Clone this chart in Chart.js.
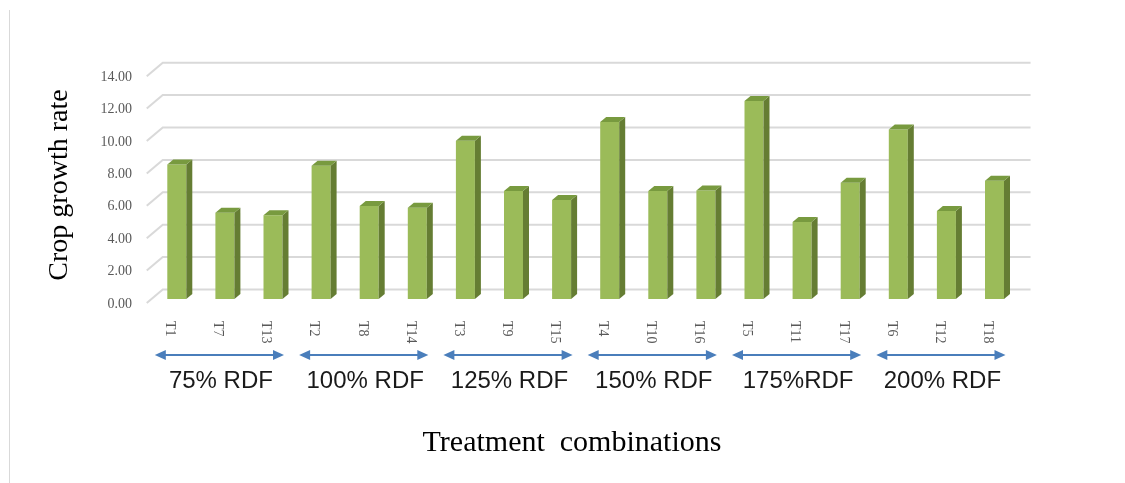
<!DOCTYPE html>
<html><head><meta charset="utf-8">
<script src="https://cdn.jsdelivr.net/npm/chart.js@4.4.1/dist/chart.umd.min.js"></script>
<style>html,body{margin:0;padding:0;background:#fff;} canvas{display:block;}</style>
</head><body>
<canvas id="c" width="1125" height="483"></canvas>
<script>
const categories = ['T1','T7','T13','T2','T8','T14','T3','T9','T15','T4','T10','T16','T5','T11','T17','T6','T12','T18'];
const cropGrowthRate = [8.31,5.33,5.17,8.23,5.74,5.64,9.77,6.67,6.11,10.93,6.67,6.69,12.22,4.75,7.18,10.47,5.43,7.30];
const groupLabels = ['75% RDF','100% RDF','125% RDF','150% RDF','175%RDF','200% RDF'];
const yTicks = [0,2,4,6,8,10,12,14];
const yTitle = 'Crop growth rate';
const xTitle = 'Treatment  combinations';

const DX = 6, DY = 5;
const decor = {
  id: 'decor',
  beforeDraw(chart) {
    const ctx = chart.ctx;
    ctx.save();
    ctx.fillStyle = '#fff';
    ctx.fillRect(0, 0, chart.width, chart.height);
    ctx.strokeStyle = '#d9d9d9';
    ctx.lineWidth = 1;
    ctx.beginPath(); ctx.moveTo(9.5, 10); ctx.lineTo(9.5, 483); ctx.stroke();
    ctx.restore();
  },
  beforeDatasetsDraw(chart) {
    const {ctx, chartArea: a, scales: {y}} = chart;
    ctx.save();
    ctx.strokeStyle = '#d9d9d9';
    ctx.lineWidth = 2;
    yTicks.forEach(v => {
      const py = y.getPixelForValue(v);
      ctx.beginPath();
      ctx.moveTo(a.left - 6, py + 4);
      ctx.lineTo(a.left + 10, py - 9.5);
      ctx.lineTo(a.right + 12, py - 9.5);
      ctx.stroke();
    });
    ctx.restore();
  },
  afterDatasetsDraw(chart) {
    const ctx = chart.ctx;
    const meta = chart.getDatasetMeta(0);
    ctx.save();
    meta.data.forEach(b => {
      const {x, y, base, width} = b.getProps(['x', 'y', 'base', 'width'], true);
      const l = x - width / 2, r = x + width / 2;
      ctx.fillStyle = '#657d33';
      ctx.beginPath();
      ctx.moveTo(r, y); ctx.lineTo(r + DX, y - DY); ctx.lineTo(r + DX, base - DY); ctx.lineTo(r, base);
      ctx.closePath(); ctx.fill();
      ctx.fillStyle = '#789a3f';
      ctx.beginPath();
      ctx.moveTo(l, y); ctx.lineTo(l + DX, y - DY); ctx.lineTo(r + DX, y - DY); ctx.lineTo(r, y);
      ctx.closePath(); ctx.fill();
    });
    ctx.restore();
  },
  afterDraw(chart) {
    const {ctx, scales: {x}} = chart;
    ctx.save();
    // category labels, rotated clockwise
    ctx.fillStyle = '#595959';
    ctx.font = '14px "Liberation Serif", serif';
    ctx.textAlign = 'left';
    ctx.textBaseline = 'middle';
    categories.forEach((c, i) => {
      const px = x.getPixelForValue(i);
      ctx.save();
      ctx.translate(px - 7, 321);
      ctx.rotate(Math.PI / 2);
      ctx.fillText(c, 0, 0);
      ctx.restore();
    });
    // group arrows and labels
    groupLabels.forEach((g, gi) => {
      const x0 = x.getPixelForValue(gi * 3) - 22;
      const x1 = x.getPixelForValue(gi * 3 + 2) + 11;
      const ay = 355;
      ctx.strokeStyle = '#4a7ebb';
      ctx.fillStyle = '#4a7ebb';
      ctx.lineWidth = 2;
      ctx.beginPath(); ctx.moveTo(x0 + 8, ay); ctx.lineTo(x1 - 8, ay); ctx.stroke();
      ctx.beginPath(); ctx.moveTo(x0, ay); ctx.lineTo(x0 + 11, ay - 5); ctx.lineTo(x0 + 11, ay + 5); ctx.closePath(); ctx.fill();
      ctx.beginPath(); ctx.moveTo(x1, ay); ctx.lineTo(x1 - 11, ay - 5); ctx.lineTo(x1 - 11, ay + 5); ctx.closePath(); ctx.fill();
      ctx.fillStyle = '#1a1a1a';
      ctx.font = '24px "Liberation Sans", sans-serif';
      ctx.textAlign = 'center';
      ctx.textBaseline = 'middle';
      ctx.fillText(g, x.getPixelForValue(gi * 3 + 1) - 4, 381);
    });
    // axis titles
    ctx.fillStyle = '#000';
    ctx.font = '28px "Liberation Serif", serif';
    ctx.textAlign = 'center';
    ctx.textBaseline = 'middle';
    ctx.save();
    ctx.translate(60, 185);
    ctx.rotate(-Math.PI / 2);
    ctx.fillText(yTitle, 0, 0);
    ctx.restore();
    ctx.font = '30px "Liberation Serif", serif';
    ctx.fillText(xTitle, 572, 443);
    ctx.restore();
  }
};

new Chart(document.getElementById('c'), {
  type: 'bar',
  data: {
    labels: categories,
    datasets: [{
      label: 'Crop growth rate',
      data: cropGrowthRate,
      backgroundColor: '#9bbb59',
      borderWidth: 0,
      categoryPercentage: 1,
      barPercentage: 0.395
    }]
  },
  options: {
    responsive: false,
    animation: false,
    devicePixelRatio: 1,
    layout: { padding: { left: 0, right: 106.45, top: 72.2, bottom: 184 } },
    plugins: { legend: { display: false }, tooltip: { enabled: false }, title: { display: false } },
    scales: {
      x: { display: false, offset: true },
      y: {
        min: 0, max: 14,
        afterFit(s) { s.width = 152.75; },
        ticks: {
          stepSize: 2,
          callback: v => Number(v).toFixed(2),
          color: '#595959',
          font: { family: 'Liberation Serif', size: 14 },
          padding: 20.75,
          labelOffset: 5
        },
        grid: { display: false, drawTicks: false },
        border: { display: false }
      }
    }
  },
  plugins: [decor]
});
</script>
</body></html>
